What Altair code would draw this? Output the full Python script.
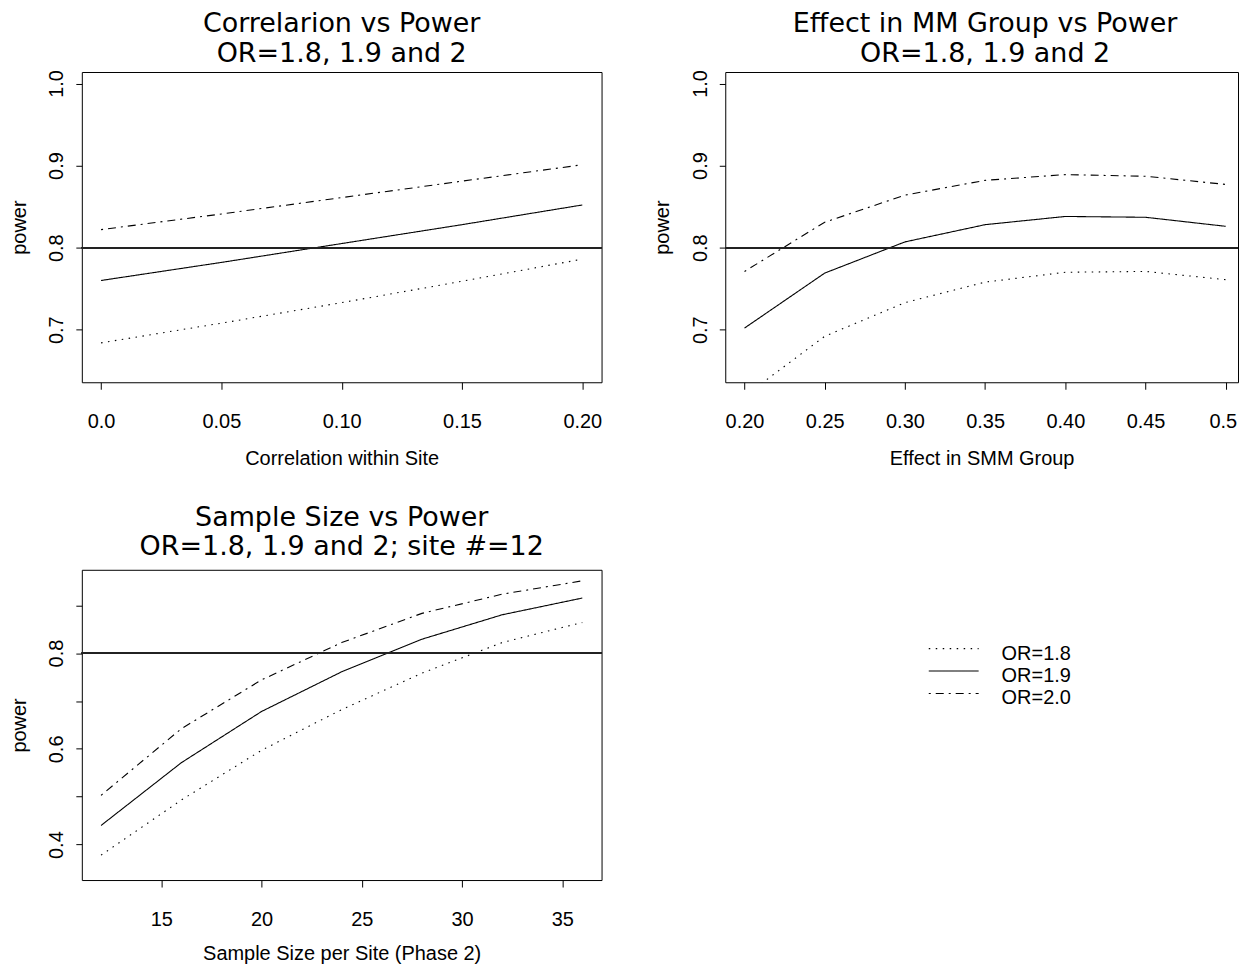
import altair as alt
import pandas as pd

or_labels = ["OR=1.8", "OR=1.9", "OR=2.0"]

# Panel 1: Correlation within site
corr_x = [0.0, 0.05, 0.10, 0.15, 0.20]
corr_or18 = [0.684, 0.708, 0.733, 0.759, 0.786]
corr_or19 = [0.760, 0.782, 0.805, 0.828, 0.852]
corr_or20 = [0.822, 0.841, 0.861, 0.881, 0.901]

# Panel 2: Effect in SMM group
eff_x = [0.20, 0.25, 0.30, 0.35, 0.40, 0.45, 0.50]
eff_or18 = [0.619, 0.692, 0.733, 0.758, 0.770, 0.771, 0.761]
eff_or19 = [0.702, 0.769, 0.807, 0.828, 0.838, 0.837, 0.826]
eff_or20 = [0.771, 0.831, 0.864, 0.882, 0.889, 0.887, 0.877]

# Panel 3: Sample size per site
n_x = [12, 16, 20, 24, 28, 32, 36]
n_or18 = [0.378, 0.493, 0.597, 0.682, 0.758, 0.822, 0.864]
n_or19 = [0.440, 0.571, 0.678, 0.761, 0.829, 0.880, 0.915]
n_or20 = [0.503, 0.642, 0.744, 0.822, 0.883, 0.923, 0.951]

target_power = 0.8

FONT = "Liberation Sans"
TITLE_FONT = "DejaVu Sans"
W, H = 521, 311
W_RIGHT = 514

dash_scale = alt.Scale(domain=or_labels, range=[[1.5, 5.5], [1, 0], [2, 5, 8, 5]])


def long_df(x, series):
    rows = []
    for lab, vals in zip(or_labels, series):
        for xv, yv in zip(x, vals):
            rows.append({"x": xv, "power": yv, "OR": lab})
    return pd.DataFrame(rows)


def x_axis(values, title, label_expr, title_pad=17.0, flush=False):
    if flush:
        kw = {"labelFlush": 13, "labelFlushOffset": 11}
    else:
        kw = {"labelFlush": False}
    return alt.Axis(
        values=values, title=title, labelExpr=label_expr,
        tickSize=7, tickColor="black", tickWidth=1,
        labelPadding=22.5, labelFontSize=20, labelFont=FONT, labelColor="black",
        labelOverlap=False,
        titleFontSize=20, titleFont=FONT, titleFontWeight="normal",
        titleColor="black", titlePadding=title_pad,
        domain=False, grid=False, **kw,
    )


def y_axis(values, label_expr):
    return alt.Axis(
        values=values, title="power", labelExpr=label_expr,
        tickSize=6, tickColor="black", tickWidth=1,
        labelPadding=9, labelAngle=270, labelAlign="center", labelBaseline="bottom",
        labelFontSize=20, labelFont=FONT, labelColor="black",
        labelFlush=False, labelOverlap=False,
        titleFontSize=20, titleFont=FONT, titleFontWeight="normal",
        titleColor="black", titlePadding=17.9,
        domain=False, grid=False,
    )


def panel(df, title_lines, xdom, xaxis, ydom, yvals, yexpr, title_offset, width, title_dx=0):
    xs = alt.X("x:Q", scale=alt.Scale(domain=xdom, nice=False, zero=False), axis=xaxis)
    ys = alt.Y("power:Q", scale=alt.Scale(domain=ydom, nice=False, zero=False),
               axis=y_axis(yvals, yexpr))
    lines = alt.Chart(df).mark_line(color="black", strokeWidth=1.1, clip=True).encode(
        x=xs, y=ys,
        strokeDash=alt.StrokeDash("OR:N", scale=dash_scale, legend=None),
        detail="OR:N",
    )
    hline = alt.Chart(df).mark_rule(color="#222", strokeWidth=1.4).encode(
        y=alt.datum(target_power)
    )
    return alt.layer(lines, hline).properties(
        width=width, height=H,
        title=alt.TitleParams(
            text=title_lines, font=TITLE_FONT, fontSize=27, fontWeight="normal",
            color="black", lineHeight=30, anchor="middle", baseline="top",
            offset=title_offset, dx=title_dx,
        ),
    )


p1 = panel(
    long_df(corr_x, [corr_or18, corr_or19, corr_or20]),
    ["Correlarion vs Power", "\u00a0OR=1.8, 1.9 and 2"],
    [-0.008, 0.208],
    x_axis(corr_x, "Correlation within Site",
           "datum.value == 0 ? '0.0' : format(datum.value, '.2f')"),
    [0.636, 1.014], [0.7, 0.8, 0.9, 1.0], "format(datum.value, '.1f')", 1.7, W,
)

p2 = panel(
    long_df(eff_x, [eff_or18, eff_or19, eff_or20]),
    ["Effect in MM Group vs Power", "\u00a0OR=1.8, 1.9 and 2"],
    [0.188, 0.188 + 0.324 * W_RIGHT / W],
    x_axis(eff_x, "Effect in SMM Group",
           "datum.value >= 0.5 ? '0.5' : format(datum.value, '.2f')", flush=True),
    [0.636, 1.014], [0.7, 0.8, 0.9, 1.0], "format(datum.value, '.1f')", 1.7, W_RIGHT,
    title_dx=3.5,
)

p3 = panel(
    long_df(n_x, [n_or18, n_or19, n_or20]),
    ["Sample Size vs Power", "\u00a0OR=1.8, 1.9 and 2; site #=12"],
    [11.04, 36.96],
    x_axis([15, 20, 25, 30, 35], "Sample Size per Site (Phase 2)",
           "format(datum.value, 'd')", title_pad=14.0),
    [0.326, 0.974], [0.4, 0.5, 0.6, 0.7, 0.8, 0.9],
    "indexof(['0.4','0.6','0.8'], format(datum.value, '.1f')) >= 0 ? format(datum.value, '.1f') : ''",
    8.4, W,
)

# Legend panel
leg_df = pd.DataFrame({"OR": or_labels, "x0": [0.0] * 3, "x1": [1.0] * 3})
leg_y = alt.Y("OR:N", scale=alt.Scale(type="point", domain=or_labels, range=[79, 124],
                                      padding=0), axis=None)
leg_xscale = alt.Scale(domain=[0, 1], range=[204, 254])
leg_lines = alt.Chart(leg_df).mark_rule(color="black", strokeWidth=1.1).encode(
    x=alt.X("x0:Q", scale=leg_xscale, axis=None), x2="x1:Q", y=leg_y,
    strokeDash=alt.StrokeDash("OR:N", scale=dash_scale, legend=None),
)
leg_text = alt.Chart(leg_df).mark_text(
    align="left", baseline="middle", dx=23, dy=5, fontSize=20, font=FONT, color="black"
).encode(
    x=alt.X("x1:Q", scale=leg_xscale, axis=None),
    y=leg_y, text="OR:N",
)
legend = alt.layer(leg_lines, leg_text).properties(
    width=W_RIGHT, height=H, view=alt.ViewBackground(stroke="transparent")
)

chart = alt.concat(
    p1, p2, p3, legend, columns=2, bounds="flush", align="each",
    spacing={"row": 188, "column": 124},
).resolve_scale(x="independent", y="independent").properties(
    padding={"left": 0, "top": 0, "right": 0, "bottom": 0},
    background="white",
).configure(
    font=FONT,
    view=alt.ViewConfig(stroke="black", strokeWidth=1),
)

chart.save("out.html", embed_options={"renderer": "svg", "actions": False})
